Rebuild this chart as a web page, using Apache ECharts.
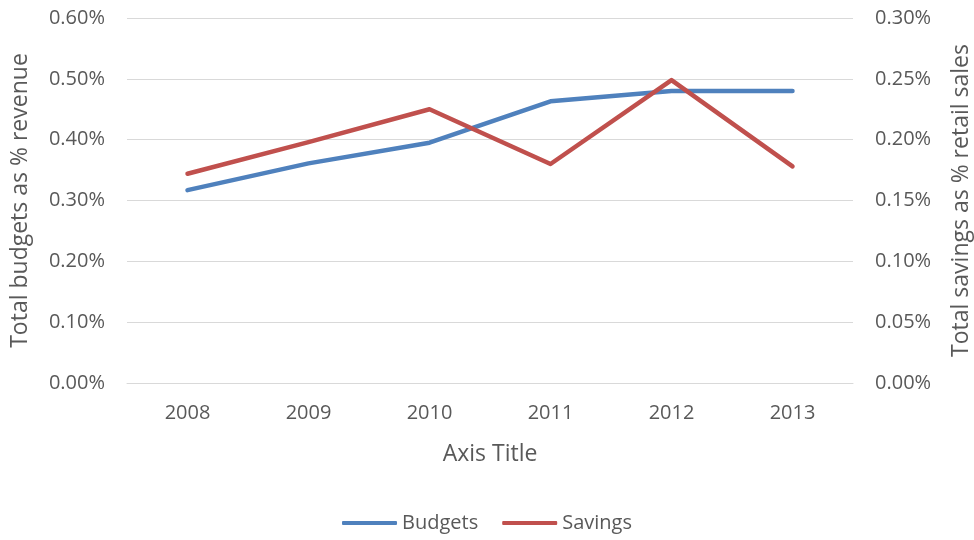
<!DOCTYPE html>
<html><head><meta charset="utf-8">
<script src="https://cdn.jsdelivr.net/npm/echarts@6/dist/echarts.min.js"></script>
<style>html,body{margin:0;padding:0;background:#fff}#c{width:974px;height:540px}</style>
</head><body><div id="c"></div>
<script>
var categories = ['2008','2009','2010','2011','2012','2013'];
var budgets = [0.317, 0.361, 0.395, 0.463, 0.480, 0.480];
var savings = [0.172, 0.198, 0.225, 0.180, 0.249, 0.178];
var leftTicks = {min: 0, max: 0.6, interval: 0.1};
var rightTicks = {min: 0, max: 0.3, interval: 0.05};
var font = '"Open Sans", "Liberation Sans", sans-serif';
var txt = '#595959';
var chart = echarts.init(document.getElementById('c'));
chart.setOption({
  animation: false,
  textStyle: {fontFamily: font},
  grid: {left: 127, right: 121, top: 18, bottom: 157, containLabel: false, outerBoundsMode: 'none'},
  legend: {
    bottom: 2, left: 'center', itemWidth: 55, itemHeight: 4, itemGap: 24,
    icon: 'roundRect',
    textStyle: {color: txt, fontSize: 20, fontFamily: font},
    data: ['Budgets', 'Savings']
  },
  xAxis: {
    type: 'category', data: categories, boundaryGap: true,
    name: 'Axis Title', nameLocation: 'middle', nameGap: 60,
    nameTextStyle: {color: txt, fontSize: 23, fontFamily: font},
    axisLine: {lineStyle: {color: '#d9d9d9', width: 1}},
    axisTick: {show: false},
    axisLabel: {color: txt, fontSize: 20, margin: 20, fontFamily: font}
  },
  yAxis: [{
    type: 'value', min: leftTicks.min, max: leftTicks.max, interval: leftTicks.interval,
    name: 'Total budgets as % revenue', nameLocation: 'middle', nameGap: 95, nameRotate: 90,
    nameTextStyle: {color: txt, fontSize: 23, fontFamily: font},
    axisLine: {show: false}, axisTick: {show: false},
    splitLine: {lineStyle: {color: '#d9d9d9', width: 1}},
    axisLabel: {color: txt, fontSize: 20, margin: 22, fontFamily: font,
      formatter: function (v) { return v.toFixed(2) + '%'; }}
  }, {
    type: 'value', min: rightTicks.min, max: rightTicks.max, interval: rightTicks.interval,
    name: 'Total savings as % retail sales', nameLocation: 'middle', nameGap: 97, nameRotate: 90,
    nameTextStyle: {color: txt, fontSize: 23, fontFamily: font},
    axisLine: {show: false}, axisTick: {show: false}, splitLine: {show: false},
    axisLabel: {color: txt, fontSize: 20, margin: 22, fontFamily: font,
      formatter: function (v) { return v.toFixed(2) + '%'; }}
  }],
  series: [{
    name: 'Budgets', type: 'line', data: budgets, yAxisIndex: 0,
    showSymbol: false, symbol: 'none',
    lineStyle: {color: '#4f81bd', width: 4.5, cap: 'round', join: 'round'},
    itemStyle: {color: '#4f81bd'}
  }, {
    name: 'Savings', type: 'line', data: savings, yAxisIndex: 1,
    showSymbol: false, symbol: 'none',
    lineStyle: {color: '#c0504d', width: 4.5, cap: 'round', join: 'round'},
    itemStyle: {color: '#c0504d'}
  }]
});
</script></body></html>
